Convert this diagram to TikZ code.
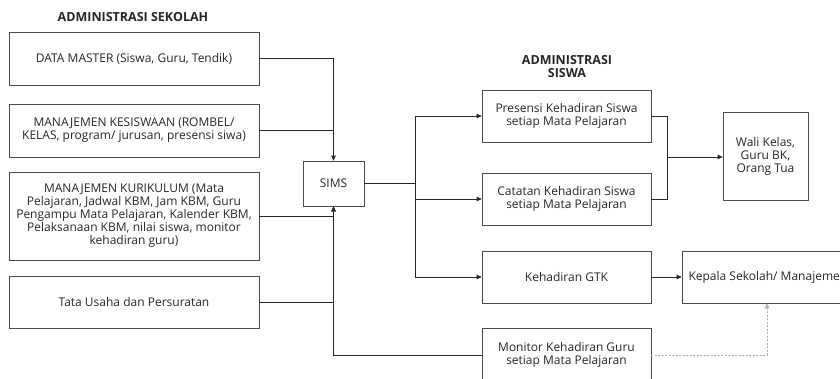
\documentclass[tikz,border=0pt]{standalone}
\usepackage{fontspec}
\setmainfont{Open Sans}
\usetikzlibrary{arrows.meta}
\begin{document}
\begin{tikzpicture}[x=1pt, y=-1pt,
  every node/.style={font=\fontsize{12}{13}\selectfont, text=black!85},
  box/.style={draw=black!70, line width=0.7pt, inner sep=0pt, align=center},
  head/.style={font=\fontsize{12.5}{13}\selectfont\bfseries, align=center},
  link/.style={draw=black!85, line width=0.7pt},
  arr/.style={link, -{Triangle[length=5pt, width=4.5pt]}},
  hint/.style={draw=black!30, line width=1pt, dash pattern=on 2pt off 1.5pt, -{Triangle[length=5pt, width=4.5pt]}}]
  \useasboundingbox (0,0) rectangle (840,378);
  \clip (0,0) rectangle (840,378);
  % section headings
  \node[head] (hsek) at (133,17) {ADMINISTRASI SEKOLAH};
  \node[head] (hsis) at (567,67) {ADMINISTRASI\\SISWA};
  % left column
  \node[box, minimum width=250pt, minimum height=53pt] (dm) at (134,58.5) {DATA MASTER (Siswa, Guru, Tendik)};
  \node[box, minimum width=250pt, minimum height=53pt] (kes) at (134,130.5) {MANAJEMEN KESISWAAN (ROMBEL/\\KELAS, program/ jurusan, presensi siwa)};
  \node[box, minimum width=250pt, minimum height=88pt] (kur) at (134,216) {MANAJEMEN KURIKULUM (Mata\\Pelajaran, Jadwal KBM, Jam KBM, Guru\\Pengampu Mata Pelajaran, Kalender KBM,\\Pelaksanaan KBM, nilai siswa, monitor\\kehadiran guru)};
  \node[box, minimum width=250pt, minimum height=52pt] (tu) at (134,302) {Tata Usaha dan Persuratan};
  % hub
  \node[box, minimum width=61pt, minimum height=45pt] (sims) at (333.5,183.5) {SIMS};
  % right side
  \node[box, minimum width=169pt, minimum height=52pt] (pres) at (566.5,116) {Presensi Kehadiran Siswa\\setiap Mata Pelajaran};
  \node[box, minimum width=169pt, minimum height=52pt] (cat) at (566.5,199) {Catatan Kehadiran Siswa\\setiap Mata Pelajaran};
  \node[box, minimum width=85pt, minimum height=88pt] (wali) at (765.5,156) {Wali Kelas,\\Guru BK,\\Orang Tua};
  \node[box, minimum width=169pt, minimum height=52pt] (gtk) at (566.5,277) {Kehadiran GTK};
  \node[box, minimum width=170pt, minimum height=52pt] (kep) at (767,277) {};
  \node[anchor=west] (keptxt) at (685,277) {Kepala Sekolah/ Manajeme};
  \node[box, minimum width=169pt, minimum height=54pt] (mon) at (566.5,355) {Monitor Kehadiran Guru\\setiap Mata Pelajaran};
  % inputs into SIMS
  \draw[arr] (dm.east) -| (sims.north);
  \draw[link] (kes.east) -- (kes.east -| sims.north);
  \draw[arr] (kur.east) -| (sims.south);
  \draw[link] (tu.east) -- (tu.east -| sims.south);
  \draw[arr] (mon.west) -| (sims.south);
  % outputs from SIMS
  \coordinate (sp) at (415,183.5);
  \draw[link] (sims.east) -- (sp);
  \draw[link] (sp |- pres.west) -- (sp |- gtk.west);
  \draw[arr] (sp |- pres.west) -- (pres.west);
  \draw[arr] (sp |- cat.west) -- (cat.west);
  \draw[arr] (sp |- gtk.west) -- (gtk.west);
  % to wali kelas
  \coordinate (mg) at (667,157);
  \draw[link] (pres.east) -| (mg) |- (cat.east);
  \draw[arr] (mg) -- (mg -| wali.west);
  % to kepala sekolah
  \draw[arr] (gtk.east) -- (kep.west);
  \draw[hint] (mon.east) -| (kep.south);
\end{tikzpicture}
\end{document}
